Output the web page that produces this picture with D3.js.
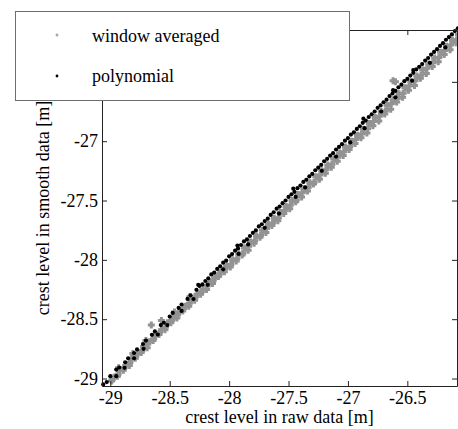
<!DOCTYPE html>
<html lang="en">
<head>
    <meta charset="UTF-8">
    <title>crest level smooth vs raw</title>
    <script src="https://d3js.org/d3.v7.min.js"></script>
    <style>
        body { margin: 0; background: #fff; }
        svg { display: block; }
        svg text.lbl { font-family: "Liberation Serif", "Times New Roman", Times, "DejaVu Serif", serif; font-size: 18px; fill: #000; }
    </style>
</head>
<body>
<script>
    var w = 458;
    var h = 429;
    var serif = "'Liberation Serif', 'Times New Roman', Times, 'DejaVu Serif', serif";

    var xTicks = [-29, -28.5, -28, -27.5, -27, -26.5];
    var yTicks = [-29, -28.5, -28, -27.5, -27, -26.5];
    var seriesNames = ["window averaged", "polynomial"];
    var xLabel = "crest level in raw data [m]";
    var yLabel = "crest level in smooth data [m]";

    // window averaged: [raw, smooth]
    var windowAveraged = [
        [-28.99, -29.02], [-28.97, -28.99], [-28.94, -28.98], [-28.92, -28.93], [-28.89, -28.93],
        [-28.87, -28.89], [-28.84, -28.89], [-28.82, -28.83], [-28.79, -28.83], [-28.77, -28.79],
        [-28.74, -28.78], [-28.72, -28.73], [-28.69, -28.74], [-28.67, -28.69], [-28.655, -28.548],
        [-28.64, -28.68], [-28.62, -28.63], [-28.57, -28.51], [-28.59, -28.63], [-28.57, -28.59],
        [-28.54, -28.59], [-28.52, -28.53], [-28.49, -28.53], [-28.47, -28.49], [-28.44, -28.49],
        [-28.42, -28.44], [-28.39, -28.43], [-28.37, -28.39], [-28.34, -28.39], [-28.32, -28.34],
        [-28.29, -28.34], [-28.27, -28.29], [-28.24, -28.29], [-28.22, -28.25], [-28.19, -28.25],
        [-28.17, -28.19], [-28.14, -28.20], [-28.12, -28.15], [-28.09, -28.14], [-28.07, -28.10],
        [-28.04, -28.10], [-28.02, -28.05], [-27.99, -28.06], [-27.97, -28.00], [-27.94, -28.01],
        [-27.92, -27.95], [-27.89, -27.96], [-27.87, -27.90], [-27.84, -27.92], [-27.82, -27.85],
        [-27.79, -27.86], [-27.77, -27.80], [-27.74, -27.81], [-27.72, -27.75], [-27.69, -27.77],
        [-27.67, -27.70], [-27.64, -27.71], [-27.62, -27.65], [-27.59, -27.67], [-27.57, -27.60],
        [-27.54, -27.61], [-27.52, -27.55], [-27.49, -27.57], [-27.47, -27.50], [-27.44, -27.51],
        [-27.42, -27.45], [-27.39, -27.47], [-27.37, -27.40], [-27.34, -27.42], [-27.32, -27.35],
        [-27.29, -27.36], [-27.27, -27.30], [-27.24, -27.32], [-27.22, -27.25], [-27.19, -27.27],
        [-27.17, -27.20], [-27.14, -27.22], [-27.12, -27.15], [-27.09, -27.17], [-27.07, -27.10],
        [-27.04, -27.12], [-27.02, -27.05], [-26.99, -27.07], [-26.97, -27.00], [-26.94, -27.02],
        [-26.92, -26.95], [-26.89, -26.97], [-26.87, -26.90], [-26.84, -26.93], [-26.82, -26.85],
        [-26.79, -26.87], [-26.77, -26.80], [-26.74, -26.83], [-26.72, -26.75], [-26.69, -26.77],
        [-26.67, -26.70], [-26.64, -26.73], [-26.62, -26.65], [-26.59, -26.67], [-26.57, -26.60],
        [-26.54, -26.63], [-26.52, -26.55], [-26.49, -26.57], [-26.47, -26.50], [-26.44, -26.53],
        [-26.42, -26.45], [-26.39, -26.47], [-26.37, -26.40], [-26.34, -26.43], [-26.32, -26.35],
        [-26.29, -26.37], [-26.27, -26.30], [-26.24, -26.33], [-26.22, -26.25], [-26.19, -26.27],
        [-26.17, -26.20], [-26.14, -26.23], [-26.12, -26.15], [-26.09, -26.17], [-26.07, -26.10],
        [-26.62, -26.49], [-26.60, -26.50],
        [-28.93, -28.91], [-28.81, -28.79], [-28.70, -28.68], [-28.46, -28.44], [-28.33, -28.31],
        // filling points between the two rows
        [-28.985, -29.010], [-28.935, -28.965], [-28.885, -28.910], [-28.835, -28.865], [-28.785, -28.810],
        [-28.735, -28.765], [-28.685, -28.710], [-28.635, -28.665], [-28.585, -28.610], [-28.535, -28.565],
        [-28.485, -28.510], [-28.435, -28.465], [-28.385, -28.410], [-28.335, -28.365], [-28.285, -28.315],
        [-28.235, -28.270], [-28.185, -28.220], [-28.135, -28.175], [-28.085, -28.125], [-28.035, -28.075],
        [-27.985, -28.040], [-27.935, -27.990], [-27.885, -27.945], [-27.835, -27.885], [-27.785, -27.840],
        [-27.735, -27.795], [-27.685, -27.735], [-27.635, -27.690], [-27.585, -27.645], [-27.535, -27.585],
        [-27.485, -27.540], [-27.435, -27.495], [-27.385, -27.435], [-27.335, -27.390], [-27.285, -27.345],
        [-27.235, -27.285], [-27.185, -27.240], [-27.135, -27.195], [-27.085, -27.135], [-27.035, -27.090],
        [-26.985, -27.045], [-26.935, -26.985], [-26.885, -26.940], [-26.835, -26.895], [-26.785, -26.835],
        [-26.735, -26.790], [-26.685, -26.745], [-26.635, -26.685], [-26.585, -26.640], [-26.535, -26.595],
        [-26.485, -26.535], [-26.435, -26.490], [-26.385, -26.445], [-26.335, -26.385], [-26.285, -26.340],
        [-26.235, -26.295], [-26.185, -26.235], [-26.135, -26.190], [-26.085, -26.145]
    ];

    // polynomial: [raw, smooth]
    var polynomial = [
        [-29.06, -29.05], [-29.03, -29.03],
        [-29.000, -28.980], [-28.950, -28.925], [-28.925, -28.907], [-28.875, -28.863], [-28.850, -28.830],
        [-28.800, -28.785], [-28.775, -28.755], [-28.725, -28.709], [-28.700, -28.680], [-28.650, -28.632],
        [-28.625, -28.603], [-28.575, -28.550], [-28.550, -28.530], [-28.500, -28.478], [-28.475, -28.447],
        [-28.425, -28.405], [-28.400, -28.376], [-28.350, -28.329], [-28.325, -28.299], [-28.275, -28.252],
        [-28.250, -28.220], [-28.225, -28.207], [-28.200, -28.178], [-28.175, -28.155], [-28.150, -28.123],
        [-28.125, -28.107], [-28.100, -28.076], [-28.075, -28.054], [-28.050, -28.024], [-28.025, -28.006],
        [-28.000, -27.970], [-27.975, -27.951], [-27.950, -27.923], [-27.925, -27.904], [-27.900, -27.875],
        [-27.875, -27.845], [-27.850, -27.828], [-27.825, -27.799], [-27.800, -27.772], [-27.775, -27.752],
        [-27.750, -27.718], [-27.725, -27.700], [-27.700, -27.673], [-27.675, -27.653], [-27.650, -27.621],
        [-27.625, -27.599], [-27.600, -27.569], [-27.575, -27.551], [-27.550, -27.522], [-27.525, -27.500],
        [-27.500, -27.470], [-27.475, -27.448], [-27.450, -27.427], [-27.425, -27.396], [-27.400, -27.374],
        [-27.375, -27.343], [-27.350, -27.325], [-27.325, -27.297], [-27.300, -27.276], [-27.275, -27.245],
        [-27.250, -27.223], [-27.225, -27.200], [-27.200, -27.169], [-27.175, -27.149], [-27.150, -27.122],
        [-27.125, -27.101], [-27.100, -27.070], [-27.075, -27.048], [-27.050, -27.025], [-27.025, -26.996],
        [-27.000, -26.974], [-26.975, -26.944], [-26.950, -26.925], [-26.925, -26.897], [-26.900, -26.874],
        [-26.875, -26.845], [-26.850, -26.826], [-26.825, -26.796], [-26.800, -26.773], [-26.775, -26.750],
        [-26.750, -26.719], [-26.725, -26.699], [-26.700, -26.672], [-26.675, -26.650], [-26.650, -26.620],
        [-26.625, -26.598], [-26.600, -26.576], [-26.575, -26.546], [-26.550, -26.524], [-26.525, -26.494],
        [-26.500, -26.475], [-26.475, -26.447], [-26.450, -26.424], [-26.425, -26.395], [-26.400, -26.373],
        [-26.375, -26.350], [-26.350, -26.321], [-26.325, -26.299], [-26.300, -26.270], [-26.275, -26.248],
        [-26.250, -26.225], [-26.225, -26.197], [-26.200, -26.174], [-26.175, -26.145], [-26.150, -26.123],
        [-26.125, -26.100], [-26.100, -26.072], [-26.075, -26.049],
        // a few points off the curve
        [-28.26, -28.21], [-27.93, -27.88], [-27.46, -27.40], [-26.87, -26.81], [-26.62, -26.57], [-26.45, -26.40],
        [-28.95, -28.98], [-28.88, -28.91], [-28.80, -28.83], [-28.72, -28.75], [-28.60, -28.63],
        [-28.52, -28.55], [-28.40, -28.43], [-28.30, -28.33], [-28.18, -28.21], [-28.05, -28.08],
        [-27.92, -27.95], [-27.84, -27.87], [-27.70, -27.73], [-27.58, -27.61], [-27.44, -27.47],
        [-27.36, -27.39], [-27.22, -27.25], [-27.10, -27.13], [-26.98, -27.01], [-26.86, -26.89],
        [-26.72, -26.75], [-26.60, -26.63], [-26.46, -26.49], [-26.31, -26.34], [-26.18, -26.21]
    ];

    var plotLeft = 102, plotRight = 457, plotTop = 30, plotBottom = 386;

    var svg = d3.select("body")
        .append("svg")
        .attr("width", w)
        .attr("height", h);

    var xScale = d3.scaleLinear()
        .domain([-29.07, -26.082])
        .range([plotLeft, plotRight]);

    var yScale = d3.scaleLinear()
        .domain([-29.063, -26.063])
        .range([plotBottom, plotTop]);

    var crossPath = "M-3.5,0H3.5M0,-3.5V3.5";

    var plot = svg.append("g");

    plot.selectAll(".avg")
        .data(windowAveraged)
        .enter()
        .append("path")
        .attr("class", "avg")
        .attr("d", crossPath)
        .attr("transform", function (d) {
            return "translate(" + xScale(d[0]) + "," + yScale(d[1]) + ")";
        })
        .attr("stroke", "#939393")
        .attr("stroke-width", 3)
        .attr("fill", "none");

    plot.selectAll(".poly")
        .data(polynomial)
        .enter()
        .append("circle")
        .attr("class", "poly")
        .attr("cx", function (d) { return xScale(d[0]); })
        .attr("cy", function (d) { return yScale(d[1]); })
        .attr("r", 2.1)
        .attr("fill", "#000");

    function fmt(d) {
        return d3.format("")(d).replace("\u2212", "-");
    }

    function styleAxis(g) {
        g.attr("font-family", serif).attr("font-size", 18);
        g.select(".domain").attr("stroke", "#222");
        g.selectAll(".tick line").attr("stroke", "#222");
        g.selectAll(".tick text").attr("class", "lbl").attr("fill", "#000")
            .style("font-family", serif).style("font-size", "18px");
    }

    svg.append("g")
        .attr("transform", "translate(0," + plotBottom + ")")
        .call(d3.axisBottom(xScale).tickValues(xTicks).tickSizeInner(-5).tickSizeOuter(0).tickPadding(5).tickFormat(fmt))
        .call(styleAxis);

    svg.append("g")
        .attr("transform", "translate(0," + plotTop + ")")
        .call(d3.axisTop(xScale).tickValues(xTicks).tickSizeInner(-5).tickSizeOuter(0).tickFormat(""))
        .call(styleAxis);

    svg.append("g")
        .attr("transform", "translate(" + plotLeft + ",0)")
        .call(d3.axisLeft(yScale).tickValues(yTicks).tickSizeInner(-5).tickSizeOuter(0).tickPadding(4).tickFormat(fmt))
        .call(styleAxis);

    svg.append("g")
        .attr("transform", "translate(" + plotRight + ",0)")
        .call(d3.axisRight(yScale).tickValues(yTicks).tickSizeInner(-5).tickSizeOuter(0).tickFormat(""))
        .call(styleAxis);

    svg.append("text")
        .attr("class", "lbl")
        .style("font-family", serif)
        .attr("x", (plotLeft + plotRight) / 2)
        .attr("y", 423)
        .attr("text-anchor", "middle")
        .text(xLabel);

    svg.append("text")
        .attr("class", "lbl")
        .style("font-family", serif)
        .attr("transform", "translate(49," + (plotTop + plotBottom) / 2 + ") rotate(-90)")
        .attr("text-anchor", "middle")
        .text(yLabel);

    // legend
    var legend = svg.append("g");
    legend.append("rect")
        .attr("x", 15.5)
        .attr("y", 11.5)
        .attr("width", 334)
        .attr("height", 89)
        .attr("fill", "#fff")
        .attr("stroke", "#6e6e6e")
        .attr("stroke-width", 1);

    legend.append("path")
        .attr("d", "M-1.5,0H1.5M0,-1.5V1.5")
        .attr("transform", "translate(57,35)")
        .attr("stroke", "#939393")
        .attr("stroke-width", 1.2);

    legend.append("circle")
        .attr("cx", 57)
        .attr("cy", 76)
        .attr("r", 1.4)
        .attr("fill", "#000");

    legend.selectAll(".legend-text")
        .data(seriesNames)
        .enter()
        .append("text")
        .attr("class", "lbl")
        .style("font-family", serif)
        .attr("x", 92)
        .attr("y", function (d, i) { return 42 + i * 40; })
        .text(function (d) { return d; });
</script>
</body>
</html>
